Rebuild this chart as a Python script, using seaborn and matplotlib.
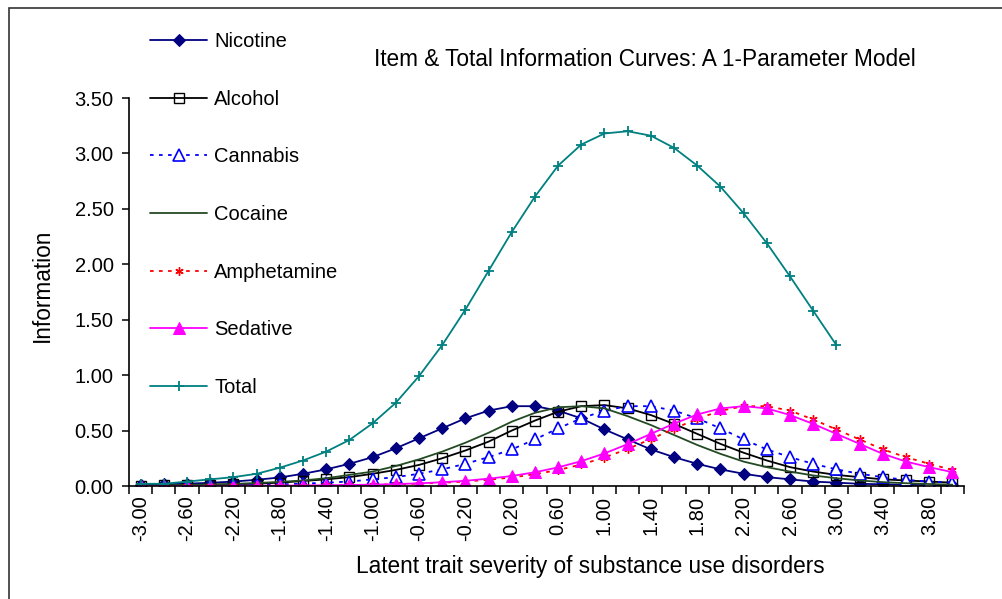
import matplotlib
matplotlib.use('Agg')
import matplotlib.pyplot as plt
import seaborn as sns
import pandas as pd
from matplotlib.patches import Rectangle

# latent trait values (category axis, step 0.2)
theta = [-3.0, -2.8, -2.6, -2.4, -2.2, -2.0, -1.8, -1.6, -1.4, -1.2, -1.0, -0.8,
         -0.6, -0.4, -0.2, 0.0, 0.2, 0.4, 0.6, 0.8, 1.0, 1.2, 1.4, 1.6,
         1.8, 2.0, 2.2, 2.4, 2.6, 2.8, 3.0, 3.2, 3.4, 3.6, 3.8, 4.0]

nicotine = [0.011, 0.015, 0.021, 0.029, 0.040, 0.056, 0.077, 0.11, 0.15, 0.20, 0.26, 0.34,
            0.43, 0.52, 0.61, 0.68, 0.72, 0.72, 0.68, 0.61, 0.51, 0.42, 0.33, 0.26,
            0.20, 0.15, 0.11, 0.08, 0.06, 0.04, 0.03, 0.02, 0.015, 0.011, 0.008, 0.005]
alcohol = [0.004, 0.006, 0.008, 0.011, 0.015, 0.021, 0.03, 0.045, 0.06, 0.08, 0.11, 0.145,
           0.19, 0.25, 0.32, 0.40, 0.50, 0.59, 0.67, 0.72, 0.73, 0.70, 0.64, 0.56,
           0.47, 0.38, 0.30, 0.23, 0.17, 0.13, 0.10, 0.08, 0.06, 0.05, 0.04, 0.03]
cannabis = [0.002, 0.003, 0.004, 0.005, 0.008, 0.011, 0.015, 0.021, 0.03, 0.04, 0.06, 0.08,
            0.11, 0.15, 0.20, 0.26, 0.33, 0.42, 0.52, 0.61, 0.68, 0.72, 0.72, 0.68,
            0.61, 0.52, 0.42, 0.33, 0.26, 0.20, 0.15, 0.11, 0.08, 0.055, 0.04, 0.03]
cocaine = [0.005, 0.007, 0.010, 0.014, 0.019, 0.027, 0.037, 0.05, 0.07, 0.10, 0.13, 0.18,
           0.24, 0.31, 0.39, 0.48, 0.58, 0.66, 0.71, 0.72, 0.70, 0.63, 0.55, 0.46,
           0.37, 0.29, 0.22, 0.17, 0.13, 0.095, 0.07, 0.05, 0.035, 0.025, 0.018, 0.012]
amphetamine = [0.0004, 0.0005, 0.0007, 0.001, 0.0014, 0.002, 0.0027, 0.004, 0.005, 0.008, 0.011, 0.015,
               0.021, 0.029, 0.04, 0.056, 0.077, 0.106, 0.144, 0.194, 0.257, 0.334, 0.423, 0.517,
               0.606, 0.678, 0.72, 0.72, 0.68, 0.60, 0.51, 0.42, 0.33, 0.26, 0.20, 0.145]
sedative = [0.0004, 0.0006, 0.0008, 0.0012, 0.0016, 0.0023, 0.0032, 0.0045, 0.0064, 0.009, 0.0125, 0.017,
            0.024, 0.034, 0.047, 0.066, 0.09, 0.124, 0.168, 0.224, 0.294, 0.378, 0.47, 0.563,
            0.645, 0.70, 0.72, 0.70, 0.64, 0.56, 0.47, 0.38, 0.29, 0.22, 0.17, 0.125]
# total only goes up to 3.00
total = [0.02, 0.02, 0.04, 0.06, 0.08, 0.11, 0.165, 0.23, 0.31, 0.415, 0.565, 0.75,
         0.99, 1.27, 1.59, 1.94, 2.29, 2.61, 2.89, 3.08, 3.18, 3.20, 3.16, 3.05,
         2.89, 2.70, 2.46, 2.19, 1.89, 1.58, 1.27]

labels = ['Nicotine', 'Alcohol', 'Cannabis', 'Cocaine', 'Amphetamine', 'Sedative', 'Total']
values = [nicotine, alcohol, cannabis, cocaine, amphetamine, sedative, total]

dots = (0, (2, 3))
styles = {
    'Nicotine': dict(color='#000080', marker='D', ms=6.3, mfc='#000080', mec='#000080', ls='-'),
    'Alcohol': dict(color='black', marker='s', ms=7, mfc='none', mec='black', mew=1.0, ls='-'),
    'Cannabis': dict(color='#0000FF', marker='^', ms=8, mfc='white', mec='#0000FF', mew=1.2, ls=dots),
    'Cocaine': dict(color='#244A24', ls='-'),
    'Amphetamine': dict(color='#FF0000', marker=(6, 2, 0), ms=6, mec='#FF0000', mew=1.0, ls=dots),
    'Sedative': dict(color='#FF00FF', marker='^', ms=8, mfc='#FF00FF', mec='#FF00FF', ls='-'),
    'Total': dict(color='#008080', marker='+', ms=7.5, mec='#008080', mew=1.3, ls='-'),
}

sns.set_theme(style='white')
plt.rcParams['font.family'] = ['Liberation Sans', 'DejaVu Sans']
plt.rcParams['text.color'] = 'black'
plt.rcParams['xtick.color'] = 'black'
plt.rcParams['ytick.color'] = 'black'
fs = 14.5
fs_title = 16.3

fig = plt.figure(figsize=(10.02, 5.99), dpi=100)
ax = fig.add_axes([129 / 1002, 113 / 599, 835 / 1002, 388 / 599])

for name, vals in zip(labels, values):
    df = pd.DataFrame({'theta': theta[:len(vals)], 'info': vals})
    sns.lineplot(data=df, x='theta', y='info', ax=ax, label=name, lw=1.3, **styles[name])

ax.set_xlim(-3.1, 4.1)
ax.set_ylim(0, 3.5)
ax.set_xticks(theta[::2])
ax.set_xticklabels([f'{v:.2f}' for v in theta[::2]], rotation=90, fontsize=fs)
ax.set_xticks([t - 0.1 for t in theta] + [4.1], minor=True)
ax.tick_params(axis='x', which='major', length=0, pad=7)
ax.tick_params(axis='x', which='minor', length=6, width=1.1, color='black', direction='out', bottom=True)
ax.set_yticks([0, 0.5, 1.0, 1.5, 2.0, 2.5, 3.0, 3.5])
ax.set_yticklabels([f'{v:.2f}' for v in [0, 0.5, 1.0, 1.5, 2.0, 2.5, 3.0, 3.5]], fontsize=fs)
ax.tick_params(axis='y', length=5, width=1.1, color='black', direction='out', left=True, pad=6)
ax.set_xlabel('')
ax.set_ylabel('')
for s in ['top', 'right']:
    ax.spines[s].set_visible(False)
for s in ['left', 'bottom']:
    ax.spines[s].set_color('black')
    ax.spines[s].set_linewidth(1.2)
ax.grid(False)

handles, labs = ax.get_legend_handles_labels()
ax.legend(handles, labs, loc='upper left', bbox_to_anchor=(150 / 1002, 1 - 32 / 599),
          bbox_transform=fig.transFigure, frameon=False, fontsize=fs, handlelength=2.85,
          handletextpad=0.35, labelspacing=1.92, borderpad=0, borderaxespad=0, numpoints=1,
          labelcolor='black')

fig.text(645 / 1002, 1 - 60 / 599, 'Item & Total Information Curves: A 1-Parameter Model',
         ha='center', va='center', fontsize=fs_title)
fig.text(42 / 1002, 1 - 285 / 599, 'Information', rotation=90, ha='center', va='center', fontsize=fs_title)
fig.text(590 / 1002, 1 - 566 / 599, 'Latent trait severity of substance use disorders',
         ha='center', va='center', fontsize=fs_title)

# chart area border (only left and top edges fall inside the picture)
fig.add_artist(Rectangle((9 / 1002, -0.05), 1.0, 1.05 - 8 / 599, fill=False,
                         edgecolor='#333333', lw=1.2, transform=fig.transFigure))

fig.savefig('out.png', dpi=100)
